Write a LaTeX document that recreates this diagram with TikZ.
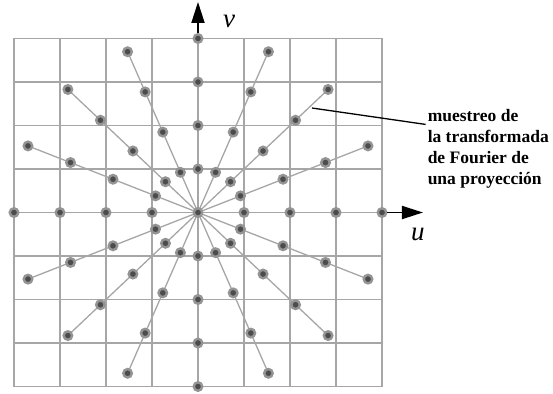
\documentclass[tikz,border=0pt]{standalone}
\usepackage{fontspec}
\setmainfont{Liberation Serif}
\usetikzlibrary{arrows.meta}
\begin{document}
\begin{tikzpicture}[x=46pt,y=43.5pt,
  rejilla/.style={draw=black!35,line width=1.4pt},
  rayo/.style={draw=black!35,line width=1.3pt},
  muestra/.style={circle,inner sep=0pt,minimum size=8.5pt,fill=black!70,draw=black!42,line width=2.4pt},
  eje/.style={line width=1.8pt,-{Triangle[length=21pt,width=13pt]}},
  letra/.style={font=\fontsize{27}{27}\selectfont\itshape},
  nota/.style={align=left,inner sep=0pt,font=\fontsize{17.5}{21}\selectfont\bfseries}]
\useasboundingbox (-4.304,-4.149) rectangle (7.717,4.885);

\foreach \k in {-4,...,4} {
  \draw[rejilla] (\k,-4) -- (\k,4);
  \draw[rejilla] (-4,\k) -- (4,\k);
}

% proyecciones cada 22.5 grados
\foreach \a [count=\i] in {0,22.5,...,157.5} {
  \coordinate (e\i) at (\a:4);
  \coordinate (w\i) at (\a+180:4);
  \draw[rayo] (e\i) -- (w\i);
}
\node[muestra] (p0) at (0,0) {};
\foreach \a [count=\i] in {0,22.5,...,157.5} {
  \foreach \r in {1,...,4} {
    \node[muestra] (p\i-\r) at (\a:\r) {};
    \node[muestra] (p\i-m\r) at (\a+180:\r) {};
  }
}

\coordinate (utip) at (4.891,0);
\coordinate (vtip) at (0,4.84);
\draw[eje] (p1-4) -- (utip);
\draw[eje] (p5-4) -- (vtip);
\node[letra] (u) at (4.78,-0.494) {u};
\node[letra] (v) at (0.674,4.40) {v};

\coordinate (marca) at (2.478,2.402);
\node[nota,anchor=north west] (texto) at (4.99,2.37)
  {muestreo de\\la transformada\\de Fourier de\\una proyección};
\draw[line width=1.3pt] (marca) -- ([xshift=-2pt,yshift=-15pt]texto.north west);
\end{tikzpicture}
\end{document}
